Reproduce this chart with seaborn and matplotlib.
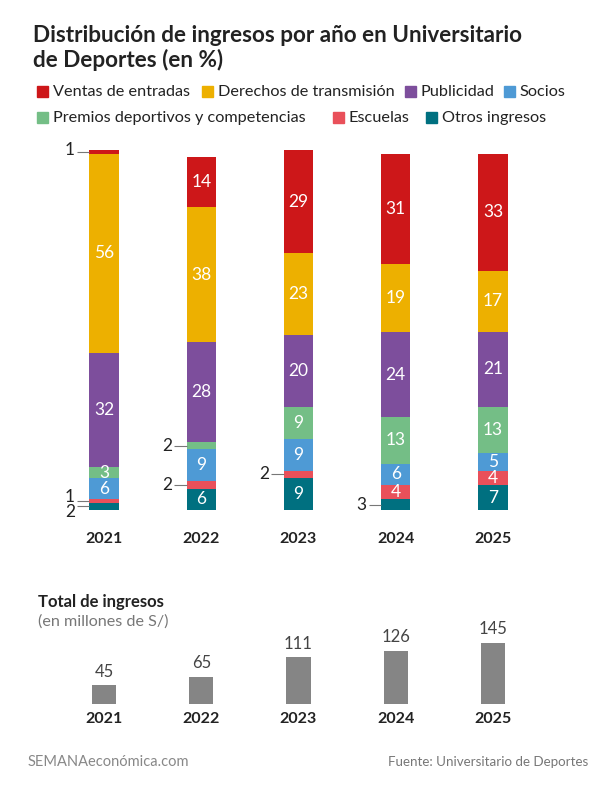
import matplotlib
matplotlib.use("Agg")
import matplotlib.pyplot as plt
import seaborn as sns
import numpy as np
from matplotlib.patches import Rectangle

years = ["2021", "2022", "2023", "2024", "2025"]

# stacked from bottom to top
series = ["Otros ingresos", "Escuelas", "Socios", "Premios deportivos y competencias",
          "Publicidad", "Derechos de transmisión", "Ventas de entradas"]
otros = [2, 6, 9, 3, 7]
escuelas = [1, 2, 2, 4, 4]
socios = [6, 9, 9, 6, 5]
premios = [3, 2, 9, 13, 13]
publicidad = [32, 28, 20, 24, 21]
derechos = [56, 38, 23, 19, 17]
ventas = [1, 14, 29, 31, 33]
values = [otros, escuelas, socios, premios, publicidad, derechos, ventas]

totals = [45, 65, 111, 126, 145]

colors = {
    "Ventas de entradas": "#CD1719",
    "Derechos de transmisión": "#EDB000",
    "Publicidad": "#7D4E9C",
    "Socios": "#4E9AD5",
    "Premios deportivos y competencias": "#74BE86",
    "Escuelas": "#E9505A",
    "Otros ingresos": "#007080",
}

# labels drawn outside the bar: (series, year index, text shift in %-units)
callouts = [("Ventas de entradas", 0, 0.6), ("Escuelas", 0, 1.1), ("Otros ingresos", 0, -1.5),
            ("Premios deportivos y competencias", 1, 0), ("Escuelas", 1, 0),
            ("Escuelas", 2, 0), ("Otros ingresos", 3, 0)]

W, H = 609, 786
def fx(x): return x / W
def fy(y): return 1 - y / H

sns.set_theme(style="white")
plt.rcParams["font.family"] = ["Lato", "DejaVu Sans"]

fig = plt.figure(figsize=(W / 100, H / 100), dpi=100)
fig.patch.set_facecolor("white")

# ---- stacked percentage bars
ax = fig.add_axes([fx(55.4), fy(510), 486.2 / W, 360 / H])
outside = [(c[0], c[1]) for c in callouts]
bottom = np.zeros(len(years))
for name, vals in zip(series, values):
    sns.barplot(x=years, y=vals, bottom=bottom, color=colors[name], saturation=1,
                width=0.3, linewidth=0, ax=ax)
    for i, v in enumerate(vals):
        if (name, i) in outside:
            continue
        ax.text(i, bottom[i] + v / 2, str(v), ha="center", va="center",
                color="white", fontsize=12.5)
    bottom = bottom + np.array(vals)

cum = np.cumsum(np.array(values), axis=0)
for name, i, dy in callouts:
    k = series.index(name)
    v = values[k][i]
    yc = cum[k][i] - v / 2
    x1 = i - 0.15
    x0 = x1 - 0.13
    ax.plot([x0, x1], [yc, yc], color="#777777", lw=0.8, solid_capstyle="butt")
    ax.text(x0 - 0.02, yc + dy, str(v), ha="right", va="center", color="#222222", fontsize=12.5)

ax.set_xlim(-0.5, 4.5)
ax.set_ylim(0, 101)
ax.set_yticks([])
ax.set_ylabel("")
ax.tick_params(axis="x", length=0, pad=16)
for lab in ax.get_xticklabels():
    lab.set_fontweight("bold")
    lab.set_fontsize(11.5)
    lab.set_color("#222222")
sns.despine(ax=ax, left=True, bottom=True)

# ---- totals
ax2 = fig.add_axes([fx(55.4), fy(704), 486.2 / W, 61 / H])
sns.barplot(x=years, y=totals, color="#858585", saturation=1, width=0.25, linewidth=0, ax=ax2)
for i, v in enumerate(totals):
    ax2.annotate(str(v), (i, v), xytext=(0, 4), textcoords="offset points",
                 ha="center", va="bottom", color="#444444", fontsize=12)
ax2.set_xlim(-0.5, 4.5)
ax2.set_ylim(0, 145)
ax2.set_yticks([])
ax2.set_ylabel("")
ax2.tick_params(axis="x", length=0, pad=6)
for lab in ax2.get_xticklabels():
    lab.set_fontweight("bold")
    lab.set_fontsize(11.5)
    lab.set_color("#222222")
sns.despine(ax=ax2, left=True, bottom=True)

# ---- title and legend
fig.text(fx(33), fy(42), "Distribución de ingresos por año en Universitario",
         ha="left", va="baseline", fontsize=16.2, fontweight="bold", color="#222222")
fig.text(fx(33), fy(67), "de Deportes (en %)",
         ha="left", va="baseline", fontsize=16.2, fontweight="bold", color="#222222")

legend_rows = [
    [("Ventas de entradas", 37), ("Derechos de transmisión", 202), ("Publicidad", 405), ("Socios", 504)],
    [("Premios deportivos y competencias", 37), ("Escuelas", 333), ("Otros ingresos", 426)],
]
for base_y, row in zip([96, 122], legend_rows):
    for name, x in row:
        fig.patches.append(Rectangle((fx(x), fy(base_y + 0.5)), 10.5 / W, 10.5 / H,
                                     transform=fig.transFigure, color=colors[name]))
        fig.text(fx(x + 16), fy(base_y), name, ha="left", va="baseline",
                 fontsize=11.7, color="#222222")

fig.text(fx(38), fy(602), "Total de ingresos", ha="left", va="center",
         fontsize=12, fontweight="bold", color="#222222")
fig.text(fx(38), fy(622), "(en millones de S/)", ha="left", va="center",
         fontsize=11.6, color="#777777")

fig.text(fx(28), fy(762), "SEMANAeconómica.com", ha="left", va="center",
         fontsize=10.5, color="#888888")
fig.text(fx(588), fy(762), "Fuente: Universitario de Deportes", ha="right", va="center",
         fontsize=9.6, color="#777777")

fig.savefig("out.png", dpi=100)
